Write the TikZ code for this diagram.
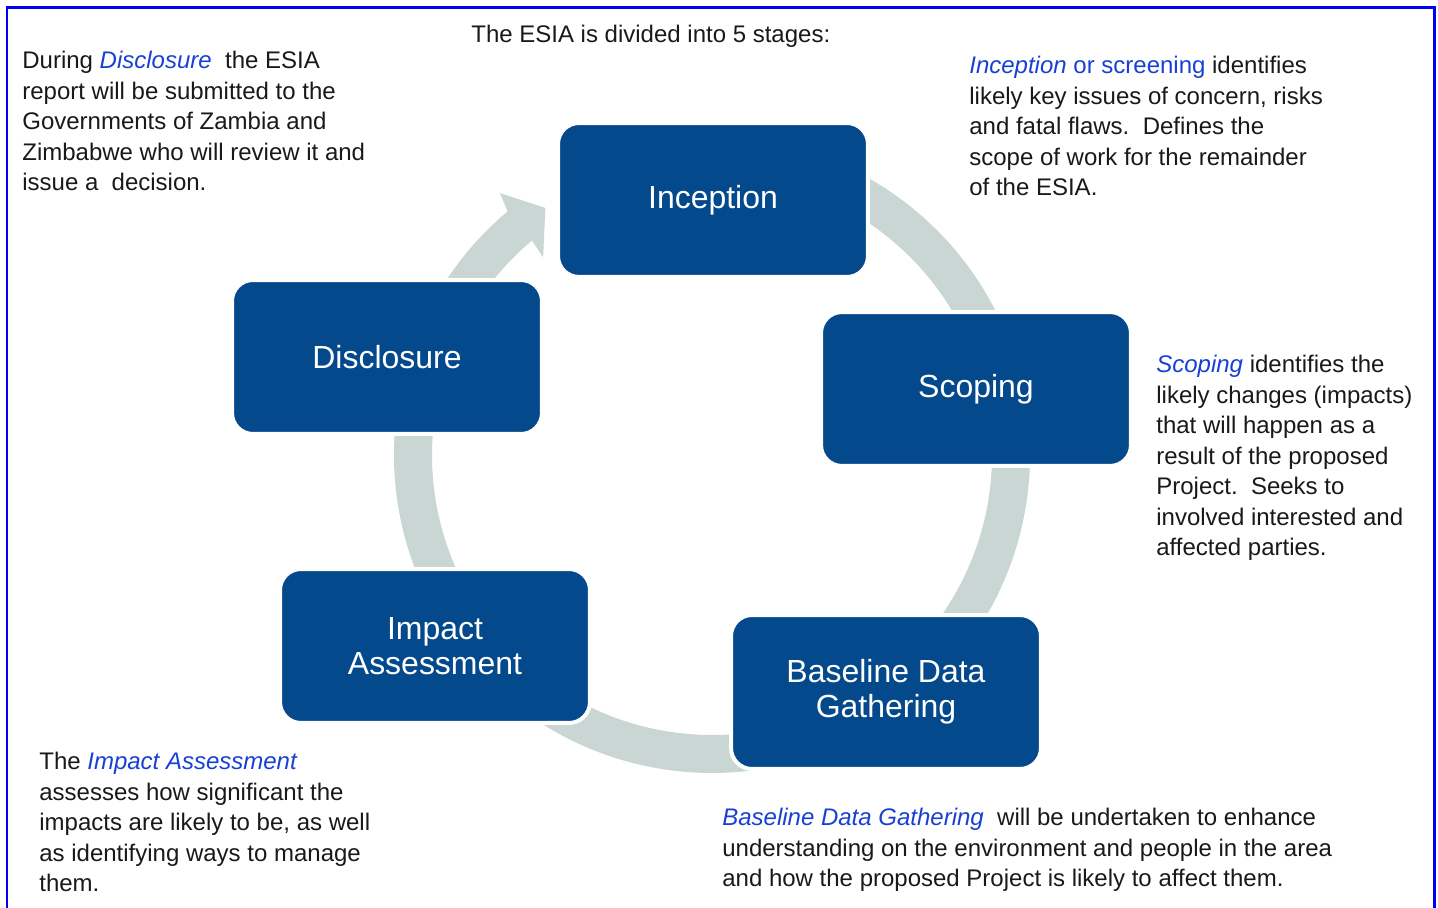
\documentclass[tikz,border=0pt]{standalone}
\usepackage{fontspec}
\setmainfont{Liberation Sans}
\definecolor{stageblue}{RGB}{3,73,140}
\definecolor{ringgrey}{RGB}{201,214,211}
\definecolor{keyblue}{RGB}{24,64,214}
\definecolor{frameblue}{RGB}{0,0,245}
\newcommand{\keyterm}[1]{\textcolor{keyblue}{\textit{#1}}}

\tikzset{
  stage/.style = {rounded corners = 0.42cm, fill = stageblue, draw = white, line width = 0.08cm,
    minimum width = 6.2cm, minimum height = 3.08cm, text = white, align = center,
    font = \fontsize{18.2}{19.9}\selectfont},
  note/.style = {anchor = north west, inner sep = 0pt, align = left, text = black!90,
    font = \fontsize{13.66}{17.36}\selectfont}
}

\begin{document}
\begin{tikzpicture}[x = 0.02cm, y = 0.02cm]
\useasboundingbox (0,0) rectangle (1438,907);
\draw[frameblue, line width = 0.06cm] (7,899) rectangle (1434,-10);
\coordinate (ring) at (712,452);
\fill[ringgrey] ([shift = {(ring)}]100:318) arc (100:10:318) -- ([shift = {(ring)}]10:280) arc (10:100:280) -- cycle;
\fill[ringgrey] ([shift = {(ring)}]10:318) arc (10:-55:318) -- ([shift = {(ring)}]-55:280) arc (-55:10:280) -- cycle;
\fill[ringgrey] ([shift = {(ring)}]-55:318) arc (-55:-130:318) -- ([shift = {(ring)}]-130:280) arc (-130:-55:280) -- cycle;
\fill[ringgrey] ([shift = {(ring)}]230:318) arc (230:170:318) -- ([shift = {(ring)}]170:280) arc (170:230:280) -- cycle;
\fill[ringgrey] ([shift = {(ring)}]170:318) arc (170:130:318) -- ([shift = {(ring)}]129:337)
  -- ([shift = {(ring)}]124:298) -- ([shift = {(ring)}]130.5:260) -- ([shift = {(ring)}]130:280)
  arc (130:170:280) -- cycle;
\node[stage] (inception) at (713,707) {Inception};
\node[stage] (scoping) at (976,518) {Scoping};
\node[stage] (baseline) at (886,215) {Baseline Data\\Gathering};
\node[stage] (impact) at (435,261) {Impact\\Assessment};
\node[stage] (disclosure) at (387,550) {Disclosure};
\node[note] (title) at (471,882) {The ESIA is divided into 5 stages:};
\node[note] (disclosurenote) at (22,856) {During \keyterm{Disclosure}\ \ the ESIA\\report will be submitted to the\\Governments of Zambia and\\Zimbabwe who will review it and\\issue a\ \ decision.};
\node[note] (inceptionnote) at (969,851) {\keyterm{Inception} \textcolor{keyblue}{or screening} identifies\\likely key issues of concern, risks\\and fatal flaws.\ \ Defines the\\scope of work for the remainder\\of the ESIA.};
\node[note] (scopingnote) at (1156,552) {\keyterm{Scoping} identifies the\\likely changes (impacts)\\that will happen as a\\result of the proposed\\Project.\ \ Seeks to\\involved interested and\\affected parties.};
\node[note] (impactnote) at (39,155) {The \keyterm{Impact Assessment}\\assesses how significant the\\impacts are likely to be, as well\\as identifying ways to manage\\them.};
\node[note] (baselinenote) at (722,99) {\keyterm{Baseline Data Gathering}\ \ will be undertaken to enhance\\understanding on the environment and people in the area\\and how the proposed Project is likely to affect them.};
\end{tikzpicture}
\end{document}
